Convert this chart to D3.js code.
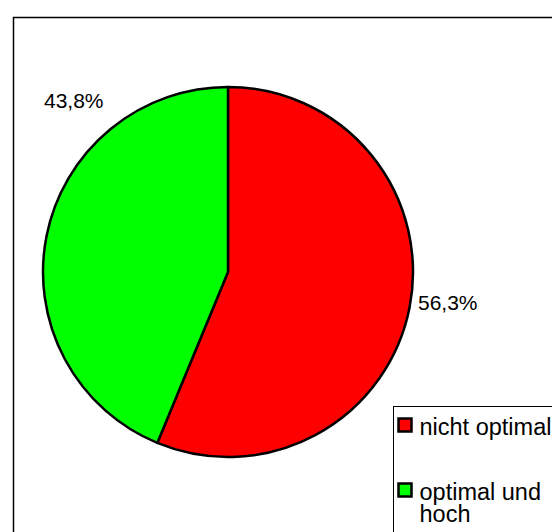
<!DOCTYPE html>
<html>
<head>
<meta charset="utf-8">
<script src="https://cdn.jsdelivr.net/npm/d3@7"></script>
<style>
  body { margin: 0; background: #fff; }
  svg { display: block; }
  text { font-family: "Liberation Sans", Arial, sans-serif; fill: #000; }
</style>
</head>
<body>
<div id="chart"></div>
<script>
const categories = ["nicht optimal", "optimal und hoch"];
const values = [56.3, 43.8];
const labels = ["56,3%", "43,8%"];
const colors = ["#ff0000", "#00ff00"];
const legendLines = [["nicht optimal"], ["optimal und", "hoch"]];

const width = 552, height = 532;
const svg = d3.select("#chart").append("svg")
  .attr("width", width)
  .attr("height", height);

// outer chart frame (runs off the right and bottom)
svg.append("rect")
  .attr("x", 13.5).attr("y", 17.5)
  .attr("width", 600).attr("height", 600)
  .attr("fill", "#fff")
  .attr("stroke", "#000").attr("stroke-width", 1.5);

const cx = 228, cy = 272, r = 185;
const pie = d3.pie().sort(null).value(d => d);
const arcs = pie(values);
const arc = d3.arc().innerRadius(0).outerRadius(r);

const g = svg.append("g").attr("transform", `translate(${cx},${cy})`);
g.selectAll("path")
  .data(arcs)
  .join("path")
  .attr("d", arc)
  .attr("fill", (d, i) => colors[i])
  .attr("stroke", "#000")
  .attr("stroke-width", 2.5)
  .attr("stroke-linejoin", "round");

// percentage labels outside slices
const labelPos = [[190, 38], [-184, -164]];
g.selectAll("text.lbl")
  .data(arcs)
  .join("text")
  .attr("class", "lbl")
  .attr("x", (d, i) => labelPos[i][0])
  .attr("y", (d, i) => labelPos[i][1])
  .style("font-size", "21px")
  .text((d, i) => labels[i]);

// legend box
const legend = svg.append("g").attr("transform", "translate(393.5,406.5)");
legend.append("rect")
  .attr("width", 300).attr("height", 200)
  .attr("fill", "#fff")
  .attr("stroke", "#000").attr("stroke-width", 1);

const itemY = [12, 77];
categories.forEach((c, i) => {
  legend.append("rect")
    .attr("x", 5).attr("y", itemY[i])
    .attr("width", 13).attr("height", 13)
    .attr("fill", colors[i])
    .attr("stroke", "#000").attr("stroke-width", 2.5);
  legendLines[i].forEach((ln, j) => {
    legend.append("text")
      .attr("x", 26).attr("y", itemY[i] + 16 + j * 22)
      .style("font-size", "23.5px")
      .text(ln);
  });
});
</script>
</body>
</html>
